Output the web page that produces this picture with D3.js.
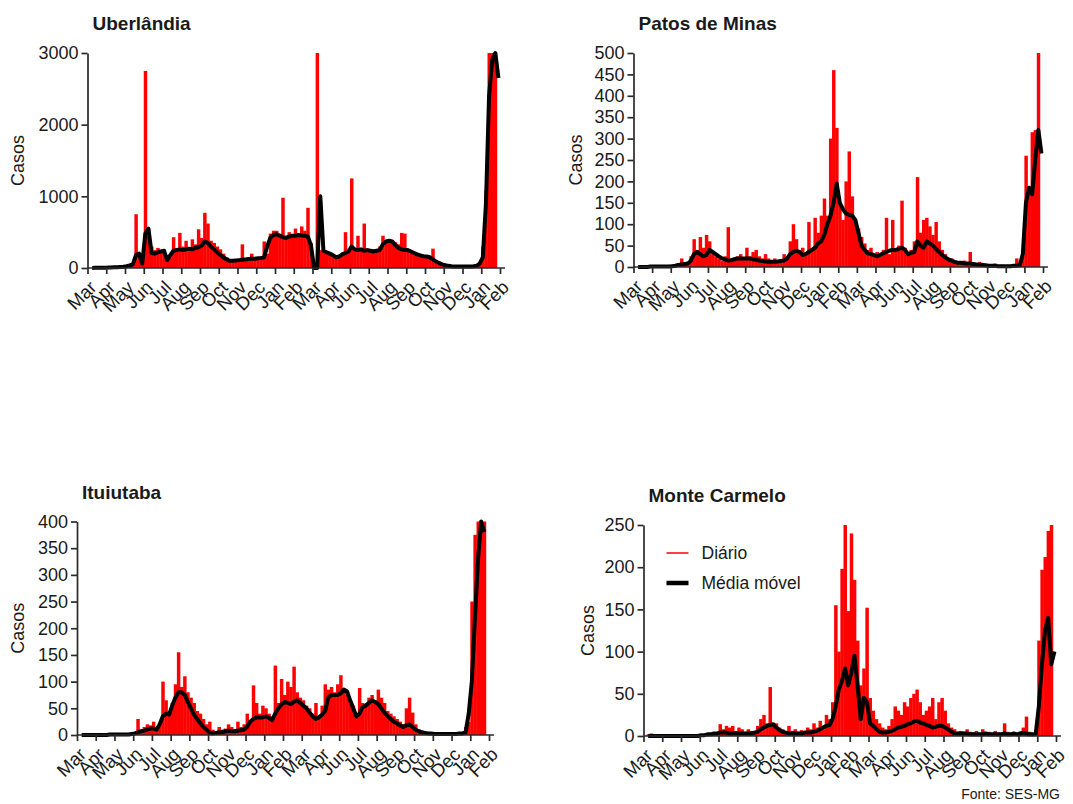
<!DOCTYPE html>
<html>
<head>
<meta charset="utf-8">
<script src="https://cdn.jsdelivr.net/npm/d3@7"></script>
<style>
  body { margin: 0; background: #fff; }
  svg { display: block; }
  text { font-family: "Liberation Sans", Arial, sans-serif; fill: #1a1a1a; }
</style>
</head>
<body>
<svg id="chart" width="1073" height="804"></svg>
<script>
// Month labels on the time axis (evenly spaced ticks)
const tickLabels = ["Mar","Apr","May","Jun","Jul","Aug","Sep","Oct","Nov","Dec","Jan","Feb",
                    "Mar","Apr","Jun","Jul","Aug","Sep","Oct","Nov","Dec","Jan","Feb"];

// Samples per month interval on the time axis
const samplesPerMonth = 6;

// Uberlândia
const uberlandiaTicks = [0, 1000, 2000, 3000];
const uberlandiaDiario = [
  0,0,2,3,5,5, 6,8,10,15,12,20, 25,40,60,750,180,120, 2750,450,300,250,280,230,
  260,110,150,430,280,490, 300,380,280,400,330,540, 420,770,620,380,350,300,
  260,200,150,110,100,90, 100,330,120,130,200,120, 150,140,370,200,480,520,
  520,480,980,420,500,460, 550,480,580,520,840,350, 0,3000,250,230,220,200,
  190,160,170,200,500,230, 1250,280,450,260,620,270, 250,260,230,300,450,380,
  400,390,360,330,490,480, 260,240,220,200,190,180, 170,160,270,100,90,60,
  40,35,30,28,25,25, 22,22,25,30,40,60, 300,1080,3000,3000,3000
];
const uberlandiaMedia = [
  null,1,2,3,4,5, 6,8,10,12,15,18, 25,35,50,180,200,60, 480,550,210,200,220,230,
  240,110,180,240,250,260, 250,260,270,260,280,290, 310,370,350,300,260,220,
  180,150,120,100,100,105, 110,115,120,125,130,130, 135,140,150,300,420,460,
  470,450,430,420,440,450, 450,460,455,450,440,320, 0,0,1000,240,220,200,
  180,150,160,190,210,230, 300,260,250,260,240,250, 240,230,240,250,330,370,
  380,370,320,280,260,250, 250,230,210,190,175,165, 160,150,120,90,70,50,
  40,30,25,22,20,20, 20,20,22,25,30,60, 150,900,2400,2900,3000,2650
];

// Patos de Minas
const patosTicks = [0,50,100,150,200,250,300,350,400,450,500];
const patosDiario = [
  0,0,0,1,1,1, 1,1,2,1,2,2, 3,5,8,20,10,12, 25,65,40,70,45,75,
  60,30,25,20,15,25, 93,20,15,25,30,20, 45,25,35,40,25,20,
  30,20,15,20,15,12, 30,25,60,100,65,40, 45,30,105,40,115,80,
  120,160,120,300,460,325, 150,110,200,270,165,110, 90,70,55,40,45,30,
  35,25,40,115,30,110, 40,50,155,45,35,40, 60,210,80,110,115,95,
  75,105,60,40,30,20, 20,15,12,10,15,10, 35,8,6,12,5,4,
  5,4,8,3,5,3, 2,3,5,20,10,25, 260,180,315,320,500
];
const patosMedia = [
  null,0,0,0,0,1, 1,1,1,1,1,1, 2,3,5,6,7,8, 15,30,35,30,25,28,
  40,35,30,25,20,18, 15,16,18,20,20,20, 20,20,18,17,15,14,
  13,12,12,12,13,14, 15,20,30,35,38,35, 28,30,35,40,45,55,
  60,75,100,120,150,195, 150,135,125,122,120,110, 80,50,40,32,30,28,
  25,28,32,35,38,40, 40,42,45,40,30,33, 35,60,50,45,60,55,
  50,42,35,28,22,18, 15,12,10,10,9,8, 8,7,6,5,5,4,
  3,3,3,2,2,2, 2,2,3,3,4,30, 150,185,170,250,320,265
];

// Ituiutaba
const ituiutabaTicks = [0,50,100,150,200,250,300,350,400];
const ituiutabaDiario = [
  0,0,0,0,0,0, 0,1,0,1,0,1, 1,0,2,1,2,1, 3,30,8,15,20,18,
  25,15,20,100,65,45, 60,95,155,90,110,80, 70,60,45,40,30,20,
  25,10,5,15,10,12, 20,15,10,25,15,20, 40,25,93,60,40,55,
  50,40,35,130,60,105, 75,100,90,128,80,70, 65,55,50,40,60,30,
  55,95,85,90,80,95, 112,80,75,65,55,40, 88,60,55,70,75,65,
  85,70,60,45,40,35, 30,25,20,50,70,42, 20,10,8,5,4,3,
  3,2,3,2,2,2, 2,3,2,5,15,25, 250,375,400,400,400
];
const ituiutabaMedia = [
  null,0,0,0,0,0, 0,0,0,0,1,1, 1,1,1,1,1,2, 3,5,7,8,10,12,
  12,10,20,35,40,38, 55,70,80,80,75,62, 50,38,30,22,15,10,
  4,3,4,5,5,7, 8,7,7,8,9,10, 15,25,30,33,33,33,
  35,32,28,40,50,57, 62,60,58,62,65,60, 55,50,42,35,30,33,
  38,45,70,75,75,75, 78,85,82,65,50,35, 40,52,55,60,65,62,
  58,50,42,35,30,25, 22,18,15,18,20,15, 10,7,5,4,3,3,
  2,2,2,2,2,2, 2,2,3,3,5,40, 100,220,330,400,380
];

// Monte Carmelo
const monteCarmeloTicks = [0,50,100,150,200,250];
const monteCarmeloDiario = [
  0,2,3,1,0,1, 0,1,0,1,0,0, 0,1,0,1,1,0, 2,1,3,2,4,3,
  14,8,12,10,12,6, 10,8,5,8,6,4, 12,20,25,15,58,12,
  15,10,8,5,12,6, 8,5,7,5,10,8, 15,10,18,8,25,20,
  40,155,100,198,250,148, 240,185,113,60,80,152, 45,30,20,15,10,8,
  12,20,35,30,25,40, 35,45,50,55,40,25, 30,35,45,20,40,45,
  30,15,10,8,5,6, 5,8,5,4,6,3, 8,4,5,3,6,4,
  3,15,5,3,4,2, 5,10,23,5,3,2, 113,197,212,243,250
];
const monteCarmeloMedia = [
  null,0,0,0,0,0, 0,0,0,0,0,0, 0,0,0,0,0,0, 1,1,2,2,3,3,
  4,4,4,3,3,3, 3,3,3,3,3,4, 5,8,10,12,13,14,
  10,7,5,4,3,3, 3,3,3,4,4,4, 5,6,8,10,12,13,
  20,35,55,65,80,60, 75,95,60,20,45,40, 15,12,8,5,4,4,
  5,6,8,10,11,12, 14,15,17,18,16,15, 13,12,10,11,12,12,
  10,8,5,3,3,3, 3,3,2,2,2,2, 2,3,2,2,2,2,
  2,3,2,2,3,2, 3,4,3,2,2,2, 35,85,125,140,85,100
];

const panels = [
  { title: "Uberlândia", diario: uberlandiaDiario, media: uberlandiaMedia, ticks: uberlandiaTicks,
    left: 87.5, right: 500, top: 53, bottom: 268, yLabelX: 18 },
  { title: "Patos de Minas", diario: patosDiario, media: patosMedia, ticks: patosTicks,
    left: 633.5, right: 1043, top: 53, bottom: 267, yLabelX: 576 },
  { title: "Ituiutaba", diario: ituiutabaDiario, media: ituiutabaMedia, ticks: ituiutabaTicks,
    left: 77, right: 489, top: 521.5, bottom: 735, yLabelX: 18 },
  { title: "Monte Carmelo", diario: monteCarmeloDiario, media: monteCarmeloMedia, ticks: monteCarmeloTicks,
    left: 643.5, right: 1056, top: 525, bottom: 736, yLabelX: 588, legend: true }
];

const svg = d3.select("#chart");
const RED = "#ff0000";
const AXIS = "#2a2a2a";

panels.forEach(p => {
  const g = svg.append("g");
  const yMax = d3.max(p.ticks);
  const x = d3.scaleLinear().domain([0, tickLabels.length - 1]).range([p.left, p.right]);
  const y = d3.scaleLinear().domain([0, yMax]).range([p.bottom, p.top]);
  const clampY = v => y(Math.min(v, yMax));

  // daily counts
  g.append("g").selectAll("rect")
    .data(p.diario)
    .join("rect")
    .attr("x", (d, i) => x(i / samplesPerMonth))
    .attr("width", (d, i) => x((i + 1) / samplesPerMonth) - x(i / samplesPerMonth) + 0.35)
    .attr("y", d => clampY(d))
    .attr("height", d => p.bottom - clampY(d))
    .attr("fill", RED);

  // moving average
  const line = d3.line()
    .defined(d => d != null)
    .x((d, i) => x((i + 0.5) / samplesPerMonth))
    .y(d => clampY(d));
  g.append("path")
    .datum(p.media)
    .attr("d", line)
    .attr("fill", "none")
    .attr("stroke", "#000")
    .attr("stroke-width", 4)
    .attr("stroke-linejoin", "round");

  // y axis
  const yAxis = g.append("g")
    .attr("transform", `translate(${p.left},0)`)
    .call(d3.axisLeft(y).tickValues(p.ticks).tickFormat(d3.format("d"))
      .tickSize(6).tickSizeOuter(0).tickPadding(3));
  yAxis.select(".domain").attr("stroke", AXIS).attr("stroke-width", 1.7);
  yAxis.selectAll(".tick line").attr("stroke", AXIS).attr("stroke-width", 1.7);
  yAxis.selectAll(".tick text").attr("font-size", 18).attr("fill", "#1a1a1a");

  // x axis
  const xAxis = g.append("g")
    .attr("transform", `translate(0,${p.bottom})`)
    .call(d3.axisBottom(x)
      .tickValues(d3.range(tickLabels.length))
      .tickFormat(i => tickLabels[i])
      .tickSize(6).tickSizeOuter(0));
  xAxis.select(".domain").remove();
  xAxis.append("line")
    .attr("x1", p.left).attr("x2", p.right + 5)
    .attr("stroke", AXIS).attr("stroke-width", 1.7);
  xAxis.selectAll(".tick line").attr("stroke", AXIS).attr("stroke-width", 1.7);
  xAxis.selectAll(".tick text")
    .attr("font-size", 18.5)
    .attr("fill", "#1a1a1a")
    .attr("x", 0).attr("y", 0).attr("dy", "0.35em")
    .attr("text-anchor", "end")
    .attr("transform", "translate(5,16) rotate(-45)");

  // title
  g.append("text")
    .attr("x", p.left + 5)
    .attr("y", p.top - 23)
    .attr("font-size", 19)
    .attr("font-weight", "bold")
    .attr("fill", "#111")
    .text(p.title);

  // y axis label
  g.append("text")
    .attr("transform", `translate(${p.yLabelX},${(p.top + p.bottom) / 2}) rotate(-90)`)
    .attr("text-anchor", "middle")
    .attr("dy", "0.35em")
    .attr("font-size", 18)
    .text("Casos");

  if (p.legend) {
    const lg = g.append("g").attr("transform", `translate(${p.left + 23},${p.top + 28})`);
    lg.append("line").attr("x1", 0).attr("x2", 22).attr("y1", 0).attr("y2", 0)
      .attr("stroke", RED).attr("stroke-width", 1.5);
    lg.append("text").attr("x", 35).attr("y", 0).attr("dy", "0.35em")
      .attr("font-size", 17.5).text("Diário");
    lg.append("line").attr("x1", 0).attr("x2", 22).attr("y1", 30).attr("y2", 30)
      .attr("stroke", "#000").attr("stroke-width", 4.5);
    lg.append("text").attr("x", 35).attr("y", 30).attr("dy", "0.35em")
      .attr("font-size", 17.5).text("Média móvel");
  }
});

// source note
svg.append("text")
  .attr("x", 1060).attr("y", 799)
  .attr("text-anchor", "end")
  .attr("font-size", 14)
  .text("Fonte: SES-MG");
</script>
</body>
</html>
